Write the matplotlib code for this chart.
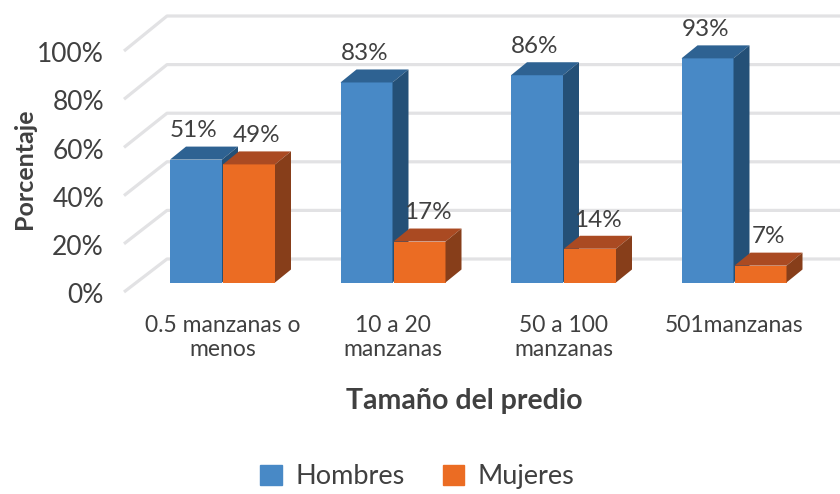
import numpy as np
import matplotlib.pyplot as plt
from matplotlib.patches import Polygon, Patch

# datos
categorias = ["0.5 manzanas o\nmenos", "10 a 20\nmanzanas", "50 a 100\nmanzanas", "501manzanas"]
hombres = [51, 83, 86, 93]
mujeres = [49, 17, 14, 7]
ticks = [0, 20, 40, 60, 80, 100]
series = ["Hombres", "Mujeres"]

plt.rcParams['font.family'] = ['Lato', 'DejaVu Sans']
gris = '#404040'
col_h = ('#4889c6', '#2e6292', '#245077')   # frente, arriba, lado
col_m = ('#eb6c23', '#aa4a22', '#873e1a')

fig = plt.figure(figsize=(8.4, 4.94), dpi=100)
ax = fig.add_axes([0, 0, 1, 1])

# escala: una categoria = 170.5 px, 1% = 2.41 px
W, H = 840, 494
cat_px, pct_px = 170.5, 2.41
x0_px, y0_px = 222.5, 282.5
ax.set_xlim(-x0_px / cat_px, (W - x0_px) / cat_px)
ax.set_ylim(-(H - y0_px) / pct_px, y0_px / pct_px)
ax.axis('off')

ancho = 52 / cat_px
dx, dy = 16 / cat_px, 13 / pct_px   # profundidad de cada barra

#
# lineas de cuadricula (pared izquierda inclinada + pared de fondo)
#
x_frente = (124 - x0_px) / cat_px
x_fondo = (167 - x0_px) / cat_px
y_frente0 = (y0_px - 292) / pct_px
y_fondo0 = (y0_px - 259) / pct_px
x_fin = ax.get_xlim()[1]
for t in ticks:
    yb = y_fondo0 + t * 243 / 241
    ax.plot([x_frente, x_fondo, x_fin], [y_frente0 + t, yb, yb],
            color='#e2e2e4', lw=2.3, solid_capstyle='butt', zorder=0)
    ax.text(x_frente - 20 / cat_px, y_frente0 + t - 1.5, f"{t}%", ha='right',
            va='center', fontsize=19, color=gris)

#
# barras 3D
#
def barra3d(x, v, cols, z):
    frente, arriba, lado = cols
    ax.bar(x, v, width=ancho, align='edge', color=frente, zorder=z)
    ax.add_patch(Polygon([(x, v), (x + ancho, v), (x + ancho + dx, v + dy), (x + dx, v + dy)],
                         closed=True, facecolor=arriba, edgecolor='none', zorder=z))
    ax.add_patch(Polygon([(x + ancho, 0), (x + ancho + dx, dy), (x + ancho + dx, v + dy), (x + ancho, v)],
                         closed=True, facecolor=lado, edgecolor='none', zorder=z))

pos = np.arange(len(categorias))
for i in pos:
    xh = i - 52.5 / cat_px
    xm = i + 0.5 / cat_px
    barra3d(xh, hombres[i], col_h, 2)
    barra3d(xm, mujeres[i], col_m, 3)
    ax.text(xh + ancho / 2 - 2 / cat_px, hombres[i] + dy + 6.5, f"{hombres[i]}%",
            ha='center', va='center', fontsize=17.5, color=gris, zorder=5)
    ax.text(xm + ancho / 2 + 8 / cat_px, mujeres[i] + dy + 6.5, f"{mujeres[i]}%",
            ha='center', va='center', fontsize=17.5, color=gris, zorder=5)
    ax.text(i, (y0_px - 315) / pct_px, categorias[i], ha='center', va='top',
            fontsize=16.5, color=gris, linespacing=1.18)

# titulos de ejes
ax.text(pos.mean() - 0.08, (y0_px - 401) / pct_px, "Tamaño del predio", ha='center',
        va='center', fontsize=20.5, fontweight='bold', color=gris)
ax.text((25 - x0_px) / cat_px, (y0_px - 169) / pct_px, "Porcentaje", ha='center',
        va='center', rotation=90, fontsize=18, fontweight='bold', color=gris)

# leyenda
handles = [Patch(color=col_h[0]), Patch(color=col_m[0])]
fig.legend(handles, series, loc='lower center', bbox_to_anchor=(0.497, -0.04), ncol=2,
           frameon=False, fontsize=19.5, handlelength=0.8, handleheight=0.8,
           handletextpad=0.5, columnspacing=1.4, labelcolor=gris)

fig.savefig("out.png", dpi=100)
